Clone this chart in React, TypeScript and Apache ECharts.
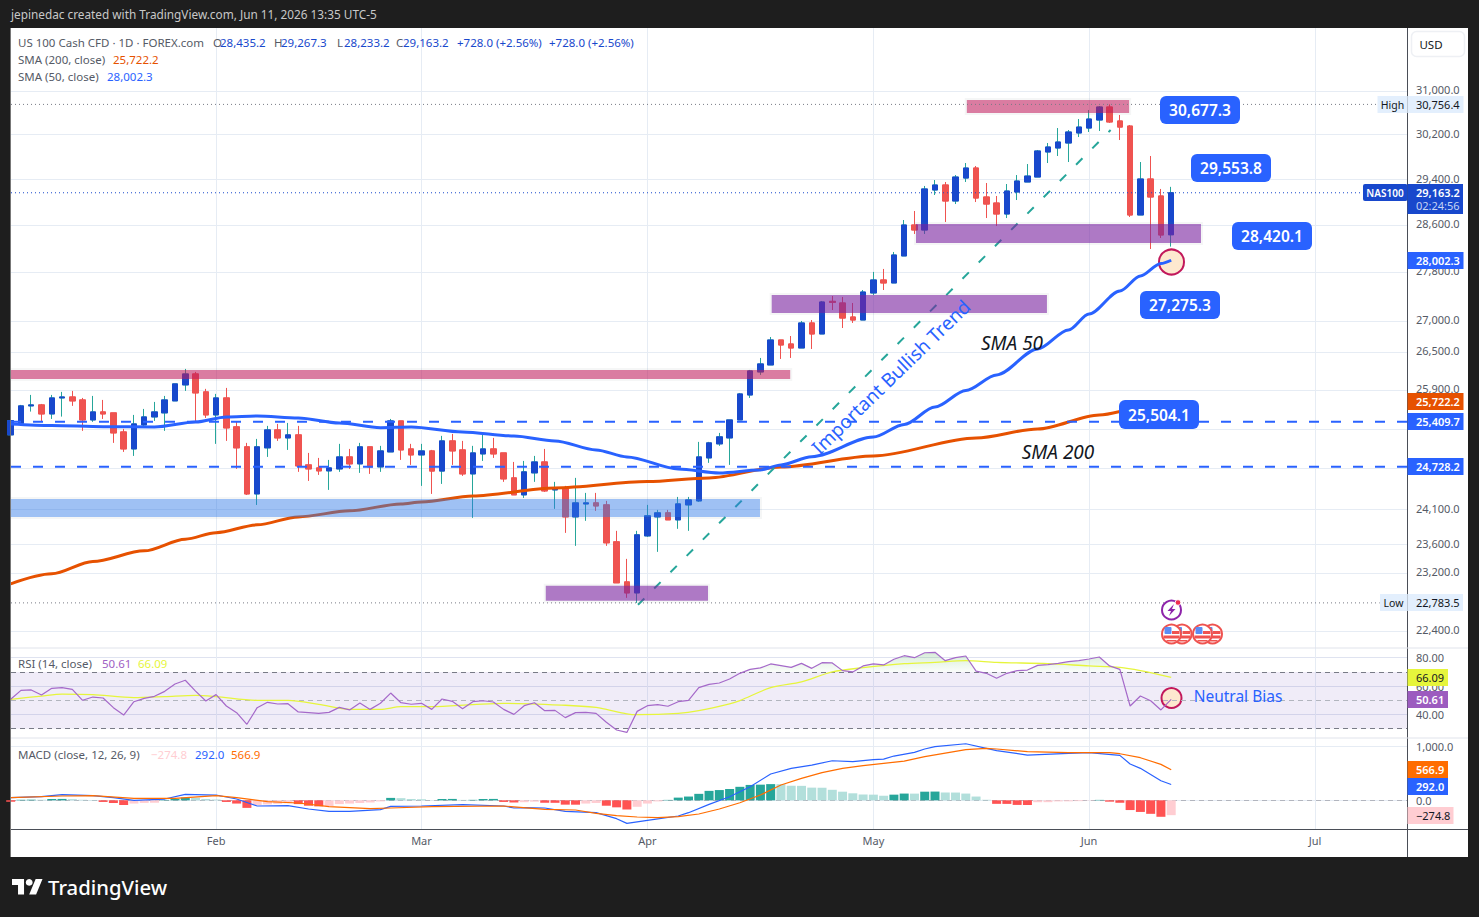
import React, { useEffect, useRef } from "react";
import * as echarts from "echarts";

const opens = [25208,25385,25652,25667,25528,25775,25790,25744,25436,25559,25544,25253,24996,25360,25482,25544,25729,25978,26150,25869,25513,25775,25330,25027,24328,25012,25284,25162,25208,24757,24712,24668,24697,24876,24772,25027,24727,24951,25421,24996,24906,24966,24665,25117,24981,24623,24921,24996,24936,24564,24314,24638,24801,24387,24401,23994,24182,24197,24168,23636,23073,22921,23721,23994,24052,23951,24168,24226,24861,25072,25162,25436,25821,26182,26292,26690,26626,26562,26965,26787,27318,27291,27062,27013,27456,27672,27622,28075,28603,28517,29212,29300,29019,29423,29601,29089,28984,28793,29177,29353,29441,29888,29960,30050,30232,30322,30469,30708,30451,30358,28776,29406,29107,28435.2];
const closes = [25426,25652,25667,25528,25775,25790,25729,25436,25559,25528,25238,24996,25375,25482,25559,25744,25994,26150,25853,25513,25775,25314,25012,24328,25027,25284,25162,25208,24742,24697,24668,24712,24876,24772,25027,24727,24966,25421,24981,24906,24966,24665,25117,24966,24623,24936,24996,24921,24549,24314,24653,24801,24372,24401,23994,24197,24197,24153,23622,23060,22921,23736,24009,24052,23951,24182,24240,24876,25087,25178,25436,25837,26197,26308,26690,26610,26562,26965,26787,27307,27302,27045,27013,27472,27672,27622,28091,28603,28517,29230,29300,29019,29441,29601,29071,28966,28793,29194,29370,29458,29906,29978,30068,30250,30340,30487,30708,30433,30340,28776,29406,29089,28432,29163.2];
const highs = [25528,25667,25822,25682,25822,25869,25884,25775,25806,25744,25544,25299,25513,25605,25713,25806,25994,26229,26182,25916,25838,25931,25411,25087,25147,25345,25375,25390,25345,24936,24861,24831,25072,24996,25087,25027,25042,25451,25421,25072,25072,24981,25193,25223,25117,25042,25208,25162,24936,24801,24816,24891,24996,24505,24446,24564,24343,24343,24226,23793,23395,23793,24168,24095,24095,24284,24284,25102,25102,25238,25436,25852,26213,26403,26738,26690,26754,26997,27013,27324,27406,27390,27291,27505,27806,27856,28142,28689,28845,29283,29388,29353,29476,29690,29637,29335,29107,29317,29476,29672,29924,30050,30322,30286,30487,30653,30727,30756.4,30561,30376,29708,29816,29230,29267.3];
const lows = [25193,25360,25564,25411,25451,25487,25652,25269,25406,25451,25087,24951,24891,25330,25421,25269,25729,25884,25421,25467,25072,25117,24697,24313,24167,24876,25117,24981,24653,24519,24608,24387,24653,24697,24638,24623,24653,24951,24831,24757,24446,24328,24475,24757,24593,23980,24816,24861,24505,24314,24269,24505,24357,24110,23764,23579,23937,24081,23579,23060,22853,22783.5,23707,23494,23951,23822,23793,24211,24787,25042,24757,25436,25775,26135,26292,26387,26403,26562,26546,26787,27176,26883,26965,27013,27423,27505,27622,28075,28449,28449,29124,28655,28966,29353,29001,28723,28586,28723,29036,29353,29441,29690,29816,29708,30158,30250,30268,30415,30104,28741,28776,28193,28380,28233.2];

const sma50Bars = [0,4,9,14,18,21,24,28,32,36,39,44,49,53,57,60,65,69,73,75,78,84,87,90,93,96,100,103,105,108,110,112,113];
const sma50Values = [25375,25352,25333,25329,25405,25482,25497,25467,25390,25318,25329,25253,25192,25117,24981,24876,24697,24638,24682,24757,24880,25177,25367,25635,25891,26134,26546,26851,27110,27489,27739,27948,28002.3];
const sma200Bars = [0,4,8,13,17,20,24,28,33,38,40,45,53,62,68,75,84,94,100,106,110,113];
const sma200Values = [23046,23185,23357,23508,23674,23767,23879,23994,24081,24182,24211,24299,24416,24509,24564,24727,24891,25162,25298,25512,25620,25722.2];

const rsiValues = [50.7,57,57.3,53.7,58.4,58.9,57.7,50,52.3,51.6,44.8,39.6,49,51.4,52.8,56.3,61.5,64.1,56.5,49.5,54,46,41.3,33.1,44.8,48.6,47.4,47.6,41.8,41.3,40.8,41.5,45,43.2,48.1,43.6,47.9,55.1,48.3,47.2,47.9,43.6,50.9,49.3,44.1,49,49.7,48.8,43.6,40.1,46.2,48.3,42.7,42.9,37.8,41.3,41.5,40.8,34.5,29.1,27.4,42.2,46.2,46.9,45.8,49,50,58.9,61.2,62.2,65,69,71.8,72.8,75.6,74.4,73.2,76,72.5,76.5,76.3,70.9,70,74.2,75.6,74.9,78.9,81.4,80,83.5,83.8,77.9,80,81.2,70.6,69,65.5,69,70.9,71.3,74.6,75.1,76,77.2,77.9,79.1,80.5,74.2,71.8,46,53,49.7,43.2,50.61];
const rsiMaBars = [0,3,5,8,12,15,18,20,24,27,30,33,36,38,41,45,48,54,57,58,60,61,65,67,70,71,74,77,80,83,87,90,93,96,101,105,108,110,113];
const rsiMaValues = [50.7,53,54.4,54,51.9,52.6,53.5,52.6,50,50,47.2,43.6,43.6,45.5,45.5,46.9,47.9,46.5,45,43.6,40.5,39.9,40.8,42.7,47.5,49.8,58.9,63,70,73,75.8,76.7,77.9,76.7,75.8,74.2,73.2,70.9,66.09];

const macdHist = [-25,10,12,10,24,26,22,10,6,-30,-50,-85,-60,-48,-45,8,25,50,48,25,15,-30,-60,-140,-85,-75,-65,-55,-70,-100,-112,-108,-70,-60,-50,-40,-20,45,40,25,20,2,25,26,8,9,25,26,-30,-40,-35,-25,-45,-46,-80,-81,-60,-50,-100,-130,-170,-120,-60,-20,8,50,70,120,175,190,210,250,285,290,300,298,270,268,235,233,195,160,130,108,105,85,105,125,124,160,162,145,144,125,70,10,-65,-66,-85,-86,-35,-34,-20,-19,-15,-5,8,-25,-45,-180,-215,-250,-305,-274.8];
const macdBars = [0,3,5,8,10,12,15,17,20,22,24,27,29,31,33,36,37,40,44,48,49,50,52,54,57,59,60,62,65,66,68,70,72,74,76,78,80,82,84,85,86,88,89,90,93,96,99,103,105,108,109,110,112,113];
const macdValues = [49,67,104,86,49,0,24,110,98,24,-105,-99,-161,-204,-204,-173,-112,-105,-81,-105,-142,-136,-142,-204,-228,-340,-426,-370,-290,-229,-75,67,252,487,592,653,733,715,752,764,820,888,950,993,1048,919,838,869,882,832,672,592,363,292];
const signalBars = [0,5,8,12,16,20,22,25,28,31,35,37,41,48,52,55,57,59,61,63,65,67,69,71,73,75,77,79,81,83,85,87,89,91,93,95,96,99,103,105,107,108,110,112,113];
const signalValues = [49,80,86,36,36,86,49,-25,-50,-117,-155,-142,-117,-105,-167,-179,-240,-284,-309,-321,-302,-253,-161,-44,98,283,407,512,592,641,684,727,808,875,938,962,950,900,882,882,882,863,789,666,566.9];

const priceTicks = [31000,30200,29400,28600,27800,27000,26500,25900,24100,23600,23200,22400];
const hiddenPriceTicks = [25300,24700];
const rsiTicks = [80,60,40];
const rsiBands = [70,50,30];
const macdTicks = [1000,0];
const monthBars = [20,40,62,84,105,127];
const monthNames = ["Feb","Mar","Apr","May","Jun","Jul"];

const zoneKinds = ["pink","purple","purple","pink","blue","purple"];
const zoneStart = [93.1,88.15,74.1,-1,-1,52.1];
const zoneEnd = [108.9,115.9,100.9,75.9,72.96,67.9];
const zoneTop = [30838,28620,27422,26213,24255,23018];
const zoneBottom = [30598,28295,27127,26072,23994,22811];

const trendBars = [61.08,107.1];
const trendPrices = [22757,30286];

const highPrice = 30756.4, lowPrice = 22783.5, lastPrice = 29163.2;
const dashLevels = [25409.7,24728.2];

const FONT = '"Noto Sans", sans-serif';
const FRAME = "#1e1e1e";
const GRIDLINE = "#e6ecf4";
const TICKTEXT = "#555a66";
const BLUE = "#2962ff";
const CANDLE = "#1848cc";
const RED = "#ef5350";
const TEAL = "#26a69a";
const ORANGE = "#e65100";

const zoneFill: Record<string, string> = {
  pink: "rgba(194,24,91,0.55)",
  purple: "rgba(123,31,162,0.58)",
  blue: "rgba(41,120,240,0.42)",
};

const XMIN = 0.03, XMAX = 135.96;

const pairs = (xs: number[], ys: number[]) => xs.map((x, i) => [x, ys[i]]);
const price = (v: number) => v.toLocaleString("en-US", { minimumFractionDigits: 1, maximumFractionDigits: 1 });

function txt(text: string, x: number, y: number, fill: string, o: any = {}) {
  return {
    type: "text", x, y, z: o.z ?? 100, silent: true, rotation: o.rotation ?? 0,
    style: {
      text, fill,
      font: `${o.style ?? "normal"} ${o.weight ?? 400} ${o.size ?? 12}px ${FONT}`,
      textAlign: o.align ?? "left", textVerticalAlign: "middle",
    },
  };
}
function box(x: number, y: number, w: number, h: number, fill: string, r: any = 0, o: any = {}) {
  return { type: "rect", z: o.z ?? 99, silent: true, shape: { x, y, width: w, height: h, r }, style: { fill, stroke: o.stroke, lineWidth: o.lineWidth } };
}
function rule(x1: number, y1: number, x2: number, y2: number, stroke: string) {
  return { type: "line", z: 98, silent: true, shape: { x1, y1, x2, y2 }, style: { stroke, lineWidth: 1 } };
}
function tag(x: number, y: number, w: number, h: number, label: string, fill: string, color: string, weight = 400) {
  return [box(x, y, w, h, fill), txt(label, x + 8.5, y + h / 2, color, { weight, size: 11 })];
}
function callout(x: number, y: number, w: number, h: number, label: string) {
  return [box(x, y, w, h, BLUE, 6), txt(label, x + w / 2, y + h / 2, "#ffffff", { weight: 600, size: 15.5, align: "center" })];
}
function ringMark(x: number, y: number, r: number) {
  return { type: "circle", z: 1, silent: true, shape: { cx: x, cy: y, r }, style: { fill: "#fde8cf", stroke: "#c2185b", lineWidth: 2 } };
}
function flag(x: number, y: number) {
  return [
    { type: "circle", z: 96, silent: true, shape: { cx: x, cy: y, r: 9.5 }, style: { fill: "#fff", stroke: "#ef5350", lineWidth: 2 } },
    box(x + 0.5, y - 3, 7.5, 3, "#ef5350", 0, { z: 96 }),
    box(x - 8, y + 1.5, 16, 3, "#ef5350", 0, { z: 96 }),
    box(x - 5, y + 6, 10, 1.5, "#ef5350", 0, { z: 96 }),
    box(x - 7, y - 7, 7, 7, "#5b8cf5", 1, { z: 96 }),
  ];
}

function buildGraphics() {
  const e: any[] = [];
  e.push(txt("jepinedac created with TradingView.com, Jun 11, 2026 13:35 UTC-5", 11, 14, "#c8c8c8", { size: 11.8 }));
  // frame and pane rules
  e.push(rule(1407.5, 28, 1407.5, 857, "#4a4e57"));
  e.push(rule(11, 829.5, 1468, 829.5, "#4a4e57"));
  e.push(rule(11, 648, 1468, 648, "#e0e3eb"));
  e.push(rule(11, 738, 1468, 738, "#e0e3eb"));
  e.push(rule(10.5, 28, 10.5, 857, "#777777"));
  // USD box
  e.push(box(1411.5, 31.5, 53, 25, "#ffffff", 5, { stroke: "#eef0f4", lineWidth: 1.5 }));
  e.push(txt("USD", 1431, 44, "#131722", { size: 11.5, align: "center" }));
  // header legend
  const k = TICKTEXT;
  e.push(txt("US 100 Cash CFD · 1D · FOREX.com", 18, 42, k, { size: 11.5 }));
  [["O", "28,435.2", 213], ["H", "29,267.3", 274], ["L", "28,233.2", 337], ["C", "29,163.2", 396]].forEach(([a, b, x]: any) => {
    e.push(txt(a, x, 42, k, { size: 11.5 }));
    e.push(txt(b, x + 7, 42, CANDLE, { size: 11.5 }));
  });
  e.push(txt("+728.0 (+2.56%)", 457, 42, CANDLE, { size: 11.5 }));
  e.push(txt("+728.0 (+2.56%)", 549, 42, CANDLE, { size: 11.5 }));
  e.push(txt("SMA (200, close)", 18, 59, k, { size: 11.5 }));
  e.push(txt("25,722.2", 113, 59, ORANGE, { size: 11.5 }));
  e.push(txt("SMA (50, close)", 18, 76, k, { size: 11.5 }));
  e.push(txt("28,002.3", 107, 76, BLUE, { size: 11.5 }));
  e.push(txt("RSI (14, close)", 18, 663, k, { size: 11.5 }));
  e.push(txt("50.61", 102, 663, "#a05fc4", { size: 11.5 }));
  e.push(txt("66.09", 138, 663, "#e6f53c", { size: 11.5 }));
  e.push(txt("MACD (close, 12, 26, 9)", 18, 754, k, { size: 11.5 }));
  e.push(txt("−274.8", 151, 754, "#ffcdd2", { size: 11.5 }));
  e.push(txt("292.0", 195, 754, BLUE, { size: 11.5 }));
  e.push(txt("566.9", 231, 754, "#ff6d00", { size: 11.5 }));
  // right axis tags
  e.push(box(1377.5, 96, 30, 17, "#e3effd"), txt("High", 1392.5, 104.5, "#131722", { size: 10.5, align: "center" }));
  e.push(...tag(1407.5, 96, 56, 17, "30,756.4", "#e3effd", "#131722"));
  e.push(box(1363, 184, 44.5, 17, CANDLE, 2), txt("NAS100", 1385, 192.5, "#ffffff", { size: 10, align: "center", weight: 600 }));
  e.push(box(1407.5, 184, 55.5, 30, CANDLE));
  e.push(txt("29,163.2", 1416, 192, "#ffffff", { size: 11, weight: 600 }));
  e.push(txt("02:24:56", 1416, 205, "#c5d4f5", { size: 11 }));
  e.push(...tag(1407.5, 252, 56, 17, "28,002.3", BLUE, "#ffffff", 600));
  e.push(...tag(1407.5, 393, 56, 17, "25,722.2", ORANGE, "#ffffff", 600));
  e.push(...tag(1407.5, 413, 56, 17, "25,409.7", BLUE, "#ffffff", 600));
  e.push(...tag(1407.5, 458, 56, 17, "24,728.2", BLUE, "#ffffff", 600));
  e.push(box(1380, 594, 27.5, 17, "#e3effd"), txt("Low", 1393.5, 602.5, "#131722", { size: 10.5, align: "center" }));
  e.push(...tag(1407.5, 594, 55.5, 17, "22,783.5", "#e3effd", "#131722"));
  e.push(...tag(1407.5, 669, 40.5, 17, "66.09", "#e6f53c", "#131722"));
  e.push(...tag(1407.5, 691, 40.5, 17, "50.61", "#9c5bbf", "#ffffff", 600));
  e.push(...tag(1407.5, 761, 40.5, 17, "566.9", "#ff6d00", "#ffffff", 600));
  e.push(...tag(1407.5, 778, 40.5, 17, "292.0", BLUE, "#ffffff", 600));
  e.push(...tag(1407.5, 807, 46, 17, "−274.8", "#ffcdd2", "#131722"));
  // callouts
  e.push(...callout(1160, 96, 80, 28, "30,677.3"));
  e.push(...callout(1191, 154, 80, 28, "29,553.8"));
  e.push(...callout(1232, 222, 80, 28, "28,420.1"));
  e.push(...callout(1140, 291, 80, 28, "27,275.3"));
  e.push(...callout(1119, 400, 80, 29, "25,504.1"));
  // annotations
  e.push(txt("Important Bullish Trend", 891, 377, BLUE, { size: 19, align: "center", rotation: 0.77 }));
  e.push(txt("SMA 50", 1012, 343, "#131722", { size: 19, align: "center", style: "italic" }));
  e.push(txt("SMA 200", 1058, 452, "#131722", { size: 19, align: "center", style: "italic" }));
  e.push(txt("Neutral Bias", 1238, 696, BLUE, { size: 15.5, align: "center" }));
  e.push(ringMark(1171.5, 262, 12.5), ringMark(1171.5, 698, 10));
  // event icons
  e.push(...flag(1212.5, 634), ...flag(1202.5, 634), ...flag(1182, 634), ...flag(1171.5, 634));
  e.push({ type: "circle", z: 96, silent: true, shape: { cx: 1171.5, cy: 610, r: 9.5 }, style: { fill: "#fff", stroke: "#8e24aa", lineWidth: 2 } });
  e.push({ type: "polygon", z: 96, silent: true, shape: { points: [[1174, 604], [1167.5, 611], [1171, 611], [1169, 616], [1175.5, 609], [1172, 609]] }, style: { fill: "#8e24aa" } });
  e.push({ type: "circle", z: 97, silent: true, shape: { cx: 1178, cy: 602.5, r: 2.8 }, style: { fill: "#ef2d4f", stroke: "#fff", lineWidth: 1 } });
  // logo
  const lx = 12, ly = 875.5, s = 0.86;
  const P = (pts: number[][]) => pts.map(([a, b]) => [lx + a * s, ly + b * s]);
  e.push({ type: "polygon", z: 100, silent: true, shape: { points: P([[0, 4], [14, 4], [14, 22], [7, 22], [7, 11], [0, 11]]) }, style: { fill: "#ffffff" } });
  e.push({ type: "polygon", z: 100, silent: true, shape: { points: P([[27.5, 4], [35.5, 4], [28, 22], [20, 22]]) }, style: { fill: "#ffffff" } });
  e.push({ type: "circle", z: 100, silent: true, shape: { cx: lx + 20 * s, cy: ly + 8 * s, r: 4 * s }, style: { fill: "#ffffff" } });
  e.push(txt("TradingView", 48, 887, "#ffffff", { size: 20.3, weight: 500 }));
  return e;
}

function buildOption() {
  const grid = [
    { left: 11, top: 28, width: 1396, height: 620 },
    { left: 11, top: 648, width: 1396, height: 90 },
    { left: 11, top: 738, width: 1396, height: 91 },
  ];
  const xAxis = grid.map((_, i) => ({
    type: "value", gridIndex: i, min: XMIN, max: XMAX, position: "bottom",
    axisLine: { show: false },
    axisTick: { show: false, customValues: monthBars },
    splitLine: { show: true, lineStyle: { color: GRIDLINE, width: 1 } },
    axisLabel: {
      show: i === 2, customValues: monthBars, margin: 6, color: TICKTEXT, fontFamily: FONT, fontSize: 11,
      formatter: (v: number) => monthNames[monthBars.indexOf(v)] ?? "",
    },
  }));
  const labelAxis = { color: TICKTEXT, fontFamily: FONT, fontSize: 11, margin: 9 };
  const yAxis = [
    {
      type: "log", gridIndex: 0, position: "right", min: 22173, max: 32204, logBase: 10,
      axisLine: { show: false }, axisTick: { show: false }, axisLabel: { show: false },
      splitLine: { show: false }, minorSplitLine: { show: false },
    },
    {
      type: "value", gridIndex: 1, position: "right", min: 23.45, max: 86.83,
      axisLine: { show: false }, axisTick: { show: false, customValues: rsiTicks },
      axisLabel: { ...labelAxis, customValues: rsiTicks, formatter: (v: number) => v.toFixed(2) },
      splitLine: { show: true, lineStyle: { color: "#dfe3f0" } },
    },
    {
      type: "value", gridIndex: 2, position: "right", min: -531, max: 1154,
      axisLine: { show: false }, axisTick: { show: false, customValues: macdTicks },
      axisLabel: { ...labelAxis, customValues: macdTicks, formatter: (v: number) => price(v) },
      splitLine: { show: true, lineStyle: { color: GRIDLINE } },
    },
  ];

  const level = (name: string, pts: number[][], color: string, width: number, type: any, z = 7) => ({
    name, type: "line", xAxisIndex: 0, yAxisIndex: 0, data: pts, showSymbol: false, silent: true, z,
    lineStyle: { color, width, type },
  });
  const histColor = (v: number, i: number) => {
    const prev = i > 0 ? macdHist[i - 1] : v + 1;
    if (v >= 0) return v > prev ? TEAL : "#b2dfdb";
    return v < prev ? "#ff5252" : "#ffcdd2";
  };

  const series: any[] = [
    {
      name: "US 100 wicks", type: "candlestick", xAxisIndex: 0, yAxisIndex: 0, z: 2, barWidth: 6, silent: true,
      data: opens.map((o, i) => [i, o, closes[i], lows[i], highs[i]]),
      itemStyle: { color: TEAL, color0: RED, borderColor: TEAL, borderColor0: RED, borderWidth: 1 },
    },
    {
      name: "US 100 bodies", type: "candlestick", xAxisIndex: 0, yAxisIndex: 0, z: 2, barWidth: 6, silent: true,
      data: opens.map((o, i) => [i, o, closes[i], Math.min(o, closes[i]), Math.max(o, closes[i])]),
      itemStyle: { color: CANDLE, color0: RED, borderColor: CANDLE, borderColor0: RED, borderWidth: 1 },
    },
    {
      name: "SMA 200", type: "line", xAxisIndex: 0, yAxisIndex: 0, z: 3, showSymbol: false, smooth: 0.3, smoothMonotone: "x", silent: true,
      data: pairs(sma200Bars, sma200Values), lineStyle: { color: ORANGE, width: 3 },
      markLine: {
        silent: true, symbol: "none", z: 0, animation: false,
        lineStyle: { color: GRIDLINE, width: 1, type: "solid" },
        label: { show: true, position: "end", distance: 9, color: TICKTEXT, fontFamily: FONT, fontSize: 11, offset: [0, -1.3] },
        data: [
          ...priceTicks.map((v) => ({ yAxis: v, label: { formatter: price(v) } })),
          ...hiddenPriceTicks.map((v) => ({ yAxis: v, label: { show: false } })),
        ],
      },
    },
    {
      name: "SMA 50", type: "line", xAxisIndex: 0, yAxisIndex: 0, z: 3, showSymbol: false, smooth: 0.3, smoothMonotone: "x", silent: true,
      data: pairs(sma50Bars, sma50Values), lineStyle: { color: BLUE, width: 3 },
    },
    {
      name: "Zones", type: "custom", xAxisIndex: 0, yAxisIndex: 0, z: 6, clip: true, silent: true,
      encode: { x: [0, 1], y: [2, 3] },
      data: zoneKinds.map((_, i) => [zoneStart[i], zoneEnd[i], zoneTop[i], zoneBottom[i]]),
      renderItem: (params: any, api: any) => {
        const a = api.coord([api.value(0), api.value(2)]);
        const b = api.coord([api.value(1), api.value(3)]);
        const shape = { x: a[0], y: a[1], width: b[0] - a[0], height: b[1] - a[1] };
        return {
          type: "group",
          children: [
            { type: "rect", shape: { x: shape.x - 2, y: shape.y - 2, width: shape.width + 4, height: shape.height + 4 }, style: { fill: "rgba(120,123,134,0.07)" } },
            { type: "rect", shape, style: { fill: zoneFill[zoneKinds[params.dataIndex]] } },
          ],
        };
      },
    },
    level("Trend", pairs(trendBars, trendPrices), TEAL, 2, [9, 14], 5),
    level("Level 1", [[XMIN, dashLevels[0]], [XMAX, dashLevels[0]]], BLUE, 2, [10, 12]),
    level("Level 2", [[XMIN, dashLevels[1]], [XMAX, dashLevels[1]]], BLUE, 2, [10, 12]),
    level("High", [[XMIN, highPrice], [133, highPrice]], "#787b86", 1, [1, 3]),
    level("Low", [[XMIN, lowPrice], [133.3, lowPrice]], "#787b86", 1, [1, 3]),
    level("Last", [[XMIN, lastPrice], [131.7, lastPrice]], CANDLE, 1, [1, 3]),
    {
      name: "RSI overbought", type: "line", xAxisIndex: 1, yAxisIndex: 1, z: 2, showSymbol: false, silent: true,
      data: rsiValues.map((v, i) => [i, Math.max(v, 70)]),
      lineStyle: { width: 0 },
      areaStyle: {
        origin: 70,
        color: new echarts.graphic.LinearGradient(0, 0, 0, 1, [
          { offset: 0, color: "rgba(76,175,80,0.32)" },
          { offset: 1, color: "rgba(76,175,80,0.04)" },
        ]),
      },
    },
    {
      name: "RSI MA", type: "line", xAxisIndex: 1, yAxisIndex: 1, z: 3, showSymbol: false, smooth: 0.3, silent: true,
      data: pairs(rsiMaBars, rsiMaValues), lineStyle: { color: "#e6f53c", width: 1.3 },
    },
    {
      name: "RSI", type: "line", xAxisIndex: 1, yAxisIndex: 1, z: 3, showSymbol: false, silent: true,
      data: rsiValues.map((v, i) => [i, v]), lineStyle: { color: "#a569c9", width: 1.2 },
      markArea: {
        silent: true, z: 0, itemStyle: { color: "rgba(126,87,194,0.115)" },
        data: [[{ yAxis: rsiBands[0] }, { yAxis: rsiBands[2] }]],
      },
      markLine: {
        silent: true, symbol: "none", z: 1, animation: false, label: { show: false },
        data: [
          { yAxis: rsiBands[0], lineStyle: { color: "#787b86", type: [5, 4], width: 1 } },
          { yAxis: rsiBands[1], lineStyle: { color: "#b2b5be", type: [5, 4], width: 1 } },
          { yAxis: rsiBands[2], lineStyle: { color: "#787b86", type: [5, 4], width: 1 } },
        ],
      },
    },
    {
      name: "MACD histogram", type: "bar", xAxisIndex: 2, yAxisIndex: 2, z: 2, barWidth: 9, silent: true,
      data: macdHist.map((v, i) => ({ value: [i, v], itemStyle: { color: histColor(v, i) } })),
      markLine: {
        silent: true, symbol: "none", z: 1, animation: false, label: { show: false },
        data: [{ yAxis: 0, lineStyle: { color: "#b2b5be", type: [5, 4], width: 1 } }],
      },
    },
    {
      name: "MACD", type: "line", xAxisIndex: 2, yAxisIndex: 2, z: 3, showSymbol: false, silent: true,
      data: pairs(macdBars, macdValues), lineStyle: { color: BLUE, width: 1.2 },
    },
    {
      name: "Signal", type: "line", xAxisIndex: 2, yAxisIndex: 2, z: 3, showSymbol: false, silent: true,
      data: pairs(signalBars, signalValues), lineStyle: { color: "#ff6d00", width: 1.2 },
    },
  ];

  return {
    animation: false,
    backgroundColor: "transparent",
    textStyle: { fontFamily: FONT },
    grid, xAxis, yAxis, series,
    graphic: { elements: buildGraphics() },
  };
}

export default function App() {
  const ref = useRef<HTMLDivElement>(null);
  useEffect(() => {
    document.body.style.margin = "0";
    document.body.style.background = FRAME;
    const chart = echarts.init(ref.current!, undefined, { renderer: "svg", width: 1479, height: 917 });
    chart.setOption(buildOption() as any);
    return () => chart.dispose();
  }, []);
  return (
    <div style={{ position: "relative", width: 1479, height: 917, background: FRAME, overflow: "hidden" }}>
      <div style={{ position: "absolute", left: 11, top: 28, width: 1457, height: 829, background: "#ffffff" }} />
      <div ref={ref} style={{ position: "absolute", left: 0, top: 0, width: 1479, height: 917 }} />
    </div>
  );
}
